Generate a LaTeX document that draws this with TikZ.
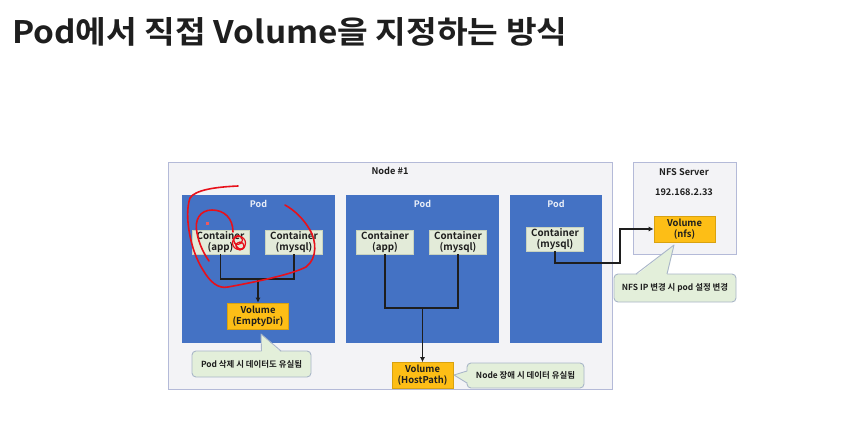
\documentclass[tikz,border=0pt]{standalone}
\usepackage{fontspec}
\setmainfont{Noto Sans CJK KR}[BoldFont=* Bold]
\usetikzlibrary{arrows.meta}
\definecolor{podblue}{HTML}{4472C4}
\definecolor{nodefill}{HTML}{F3F3F6}
\definecolor{nodeline}{HTML}{B4BAD8}
\definecolor{ctfill}{HTML}{E3EBD9}
\definecolor{ctline}{HTML}{C9D3BF}
\definecolor{volfill}{HTML}{FDBE16}
\definecolor{volline}{HTML}{D9A20F}
\definecolor{notefill}{HTML}{E3EFDA}
\definecolor{noteline}{HTML}{A9B6C8}
\definecolor{ink}{HTML}{1E1E1E}
\definecolor{pen}{HTML}{E8101A}
\tikzset{
  region/.style={draw=nodeline, line width=1pt, fill=nodefill},
  podbox/.style={fill=podblue},
  podlabel/.style={text=white!88!podblue, font=\bfseries\fontsize{9}{10}\selectfont},
  ctbox/.style={draw=ctline, fill=ctfill, line width=0.5pt, minimum width=57pt, minimum height=24pt,
    inner sep=0pt, align=center, text=ink, font=\bfseries\fontsize{9.8}{10.8}\selectfont},
  volbox/.style={draw=volline, fill=volfill, line width=0.6pt, minimum width=61pt, minimum height=26pt,
    inner sep=0pt, align=center, text=ink, font=\bfseries\fontsize{9.4}{10.8}\selectfont},
  notebox/.style={draw=noteline, fill=notefill, line width=0.9pt, rounded corners=4pt, inner sep=0pt,
    align=center, text=ink, font=\bfseries\fontsize{8.4}{9}\selectfont},
  wire/.style={draw=ink, line width=1.7pt},
  feed/.style={wire, -{Latex[length=5pt,width=5pt]}},
  scribble/.style={draw=pen, line width=1.6pt, line cap=round, line join=round},
  plain/.style={text=ink, font=\bfseries\fontsize{9.2}{10}\selectfont}
}
\begin{document}
\begin{tikzpicture}[x=1pt, y=-1pt]
\useasboundingbox[fill=white] (0,0) rectangle (864,426);

% heading
\node[anchor=base west, inner sep=0pt, text=ink, font=\bfseries\fontsize{31}{36}\selectfont] (title) at (12,43) {\scalebox{1.075}[1]{Pod에서 직접 Volume을 지정하는 방식}};

% worker node and NFS server
\path[region] (168,162) rectangle (612,389);
\node[plain] (nodelbl) at (390,171) {Node \#1};
\path[region] (633,162) rectangle (736,254);
\node[plain] (nfslbl) at (684,172) {NFS Server};
\node[plain] (nfsip) at (684,192) {192.168.2.33};

% pods
\path[podbox] (182,195) rectangle (335,343);
\path[podbox] (346,195) rectangle (499,343);
\path[podbox] (510,195) rectangle (602,343);
\node[podlabel] (pod1) at (258.5,204) {Pod};
\node[podlabel] (pod2) at (422.5,204) {Pod};
\node[podlabel] (pod3) at (556,204) {Pod};

% containers
\node[ctbox] (app1) at (220.5,242) {Container\\(app)};
\node[ctbox] (sql1) at (294,242) {Container\\(mysql)};
\node[ctbox] (app2) at (385,242) {Container\\(app)};
\node[ctbox] (sql2) at (458,242) {Container\\(mysql)};
\node[ctbox] (sql3) at (555,239) {Container\\(mysql)};

% volumes
\node[volbox] (vol1) at (258,316) {Volume\\(EmptyDir)};
\node[volbox] (vol2) at (422.5,375.5) {Volume\\(HostPath)};
\node[volbox] (vol3) at (684.5,229) {Volume\\(nfs)};

% mounts
\coordinate (j1) at (258,279);
\coordinate (j2) at (422.5,308);
\coordinate (k3) at (620,263);
\draw[wire] (app1.south) |- (j1) -| (sql1.south);
\draw[feed] (j1) -- (vol1.north);
\draw[wire] (app2.south) |- (j2) -| (sql2.south);
\draw[feed] (j2) -- (vol2.north);
\draw[feed] (sql3.south) |- (k3) |- (vol3.west);

% notes with pointers
\node[notebox, minimum width=119pt, minimum height=26pt] (n1) at (251.5,364) {Pod 삭제 시 데이터도 유실됨};
\node[notebox, minimum width=117pt, minimum height=25pt] (n2) at (525.5,375.5) {Node 장애 시 데이터 유실됨};
\node[notebox, minimum width=122pt, minimum height=28pt] (n3) at (675,288) {NFS IP 변경 시 pod 설정 변경};

\coordinate (t1) at (261,334);
\fill[notefill] (t1) -- (261.5,352.5) -- (281,352.5) -- cycle;
\draw[noteline, line width=0.9pt, line join=round] (261.5,351) -- (t1) -- (281,351);

\coordinate (t2) at (454,375);
\fill[notefill] (t2) -- (468.5,371) -- (468.5,383) -- cycle;
\draw[noteline, line width=0.9pt, line join=round] (467,371) -- (t2) -- (467,383);

\coordinate (t3) at (674,245);
\fill[notefill] (t3) -- (636,275.5) -- (667,275.5) -- cycle;
\draw[noteline, line width=0.9pt, line join=round] (636,274) -- (t3) -- (667,274);

% red pen marks
\draw[scribble] (238,186) .. controls (215,187) and (195,190) .. (190,198)
  .. controls (184,215) and (190,250) .. (203,270)
  .. controls (210,282) and (218,289) .. (228,287)
  .. controls (255,282) and (290,275) .. (306,267)
  .. controls (318,258) and (316,240) .. (310,230)
  .. controls (303,218) and (294,210) .. (285,205);
\draw[scribble] (233,232) .. controls (233,218) and (224,210) .. (212,210)
  .. controls (200,210) and (194,220) .. (197,233)
  .. controls (199,244) and (204,254) .. (209,261);
\draw[scribble, line width=1.2pt] (239,243) circle (6.5pt);
\draw[scribble, line width=1.2pt] (238,240) circle (4.5pt);
\draw[scribble, line width=1.2pt] (240,246) circle (4pt);
\draw[scribble, line width=1.1pt] (233,238) .. controls (236,250) and (243,252) .. (245,246);
\fill[pen!70!white] (205.5,221.5) rectangle (209,225);
\end{tikzpicture}
\end{document}
